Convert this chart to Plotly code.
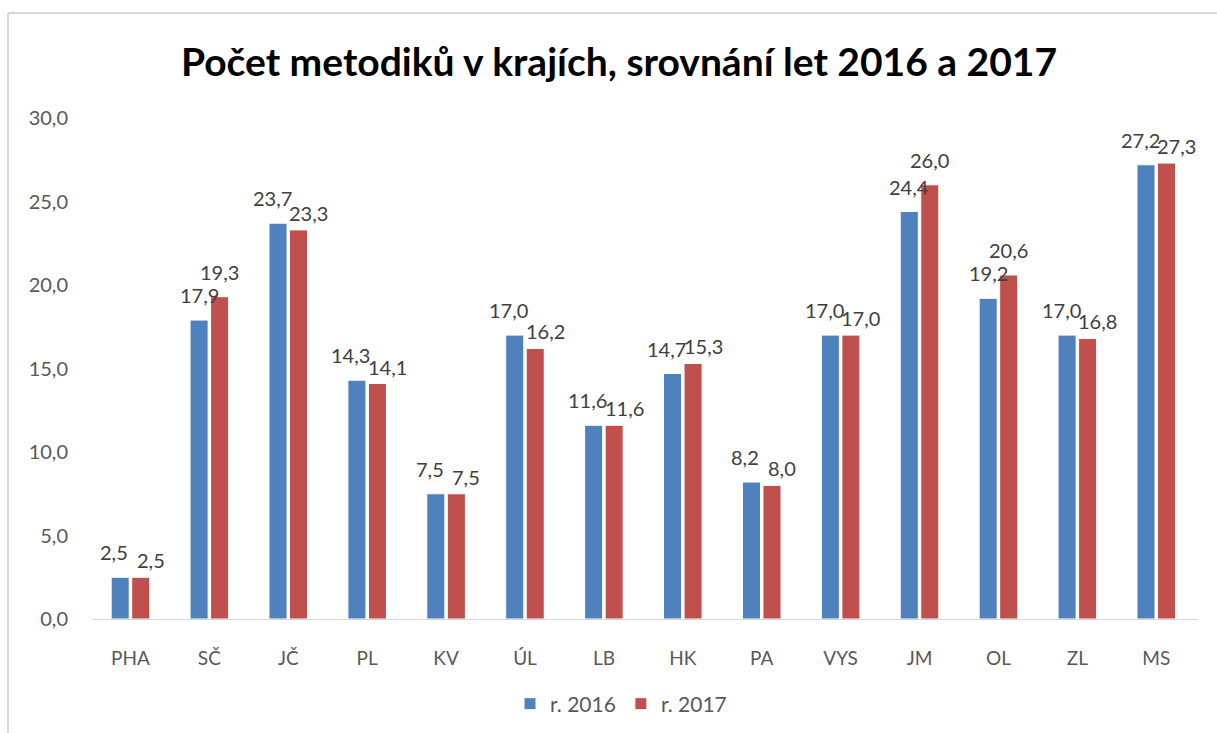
import plotly.graph_objects as go

categories = ["PHA", "SČ", "JČ", "PL", "KV", "ÚL", "LB", "HK", "PA", "VYS", "JM", "OL", "ZL", "MS"]
values_2016 = [2.5, 17.9, 23.7, 14.3, 7.5, 17.0, 11.6, 14.7, 8.2, 17.0, 24.4, 19.2, 17.0, 27.2]
values_2017 = [2.5, 19.3, 23.3, 14.1, 7.5, 16.2, 11.6, 15.3, 8.0, 17.0, 26.0, 20.6, 16.8, 27.3]
series_names = ["r. 2016", "r. 2017"]
y_ticks = [0, 5, 10, 15, 20, 25, 30]

BLUE = "#4F81BD"
RED = "#C0504D"
FONT = "Lato"

def fmt(v):
    return f"{v:.1f}".replace(".", ",")

fig = go.Figure()
for name, vals, col in [(series_names[0], values_2016, BLUE), (series_names[1], values_2017, RED)]:
    fig.add_trace(go.Bar(
        x=categories, y=vals, name=name,
        marker=dict(color=col, line=dict(color="white", width=1)),
        hoverinfo="x+y",
    ))

# data labels (Excel-like: nudge apart when the two labels would collide)
slot = 20.5
annotations = []
for i, c in enumerate(categories):
    a, b = values_2016[i], values_2017[i]
    near = abs(a - b) < 1.2
    annotations.append(dict(
        x=c, y=a, xref="x", yref="y", text=fmt(a), showarrow=False,
        xanchor="center", yanchor="bottom",
        xshift=-slot / 2 - (6 if near else 0), yshift=11,
        font=dict(family=FONT, size=20, color="#404040"),
    ))
    annotations.append(dict(
        x=c, y=b, xref="x", yref="y", text=fmt(b), showarrow=False,
        xanchor="center", yanchor="bottom",
        xshift=slot / 2 + (10 if near else 0), yshift=3 if near else 11,
        font=dict(family=FONT, size=20, color="#404040"),
    ))

W, H = 1217, 733
L, R, T, B = 91, 19, 118, 114
pw, ph = W - L - R, H - T - B

def px_x(p):
    return (p - L) / pw

def px_y(p):
    return (H - B - p) / ph

fig.update_layout(
    width=W, height=H,
    margin=dict(l=L, r=R, t=T, b=B, autoexpand=False),
    paper_bgcolor="white", plot_bgcolor="white",
    barmode="group", bargap=0.48, bargroupgap=0.12,
    separators=", ",
    title=dict(
        text="<b>Počet metodiků v krajích, srovnání let 2016 a 2017</b>",
        x=619 / W, xref="container", xanchor="center",
        y=1 - 62 / H, yref="container", yanchor="middle",
        font=dict(family=FONT, size=39, color="black"),
    ),
    xaxis=dict(
        showgrid=False, showline=True, linecolor="#D9D9D9", linewidth=1,
        ticks="", tickfont=dict(family=FONT, size=19, color="#595959"),
        ticklabelstandoff=22, zeroline=False, tickangle=0,
    ),
    yaxis=dict(
        range=[0, 30], tickvals=y_ticks, tickformat=".1f",
        showgrid=False, showline=False, zeroline=False, ticks="",
        tickfont=dict(family=FONT, size=20, color="#595959"),
        ticklabelstandoff=22,
    ),
    legend=dict(
        orientation="h", x=px_x(621), xanchor="center",
        y=px_y(704), yanchor="middle",
        font=dict(family=FONT, size=21, color="#595959"),
        itemwidth=30, traceorder="normal",
    ),
    annotations=annotations,
    shapes=[
        dict(type="line", xref="paper", yref="paper",
             x0=px_x(8), x1=px_x(8), y0=px_y(733), y1=px_y(13),
             line=dict(color="#D9D9D9", width=2), layer="below"),
        dict(type="line", xref="paper", yref="paper",
             x0=px_x(8), x1=px_x(1217), y0=px_y(13), y1=px_y(13),
             line=dict(color="#D9D9D9", width=2), layer="below"),
    ],
)

fig.write_html("out.html", config={"displayModeBar": False},
               post_script="document.body.style.margin='0px';")
